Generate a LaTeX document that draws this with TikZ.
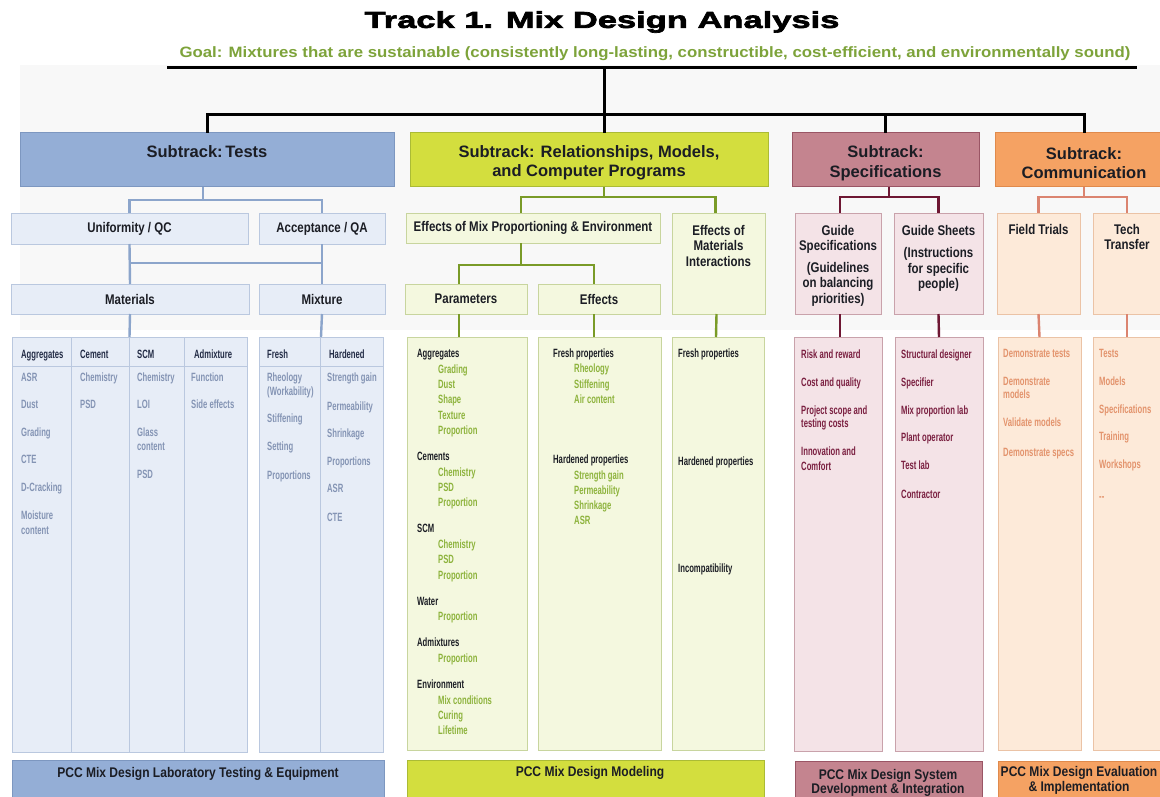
\documentclass[tikz,border=0pt]{standalone}
\usepackage{fontspec}
\setmainfont{Liberation Sans}
\newfontfamily\gfont[FakeStretch=1.12]{Liberation Sans}
\newfontfamily\bfont[FakeStretch=0.86]{Liberation Sans}
\newfontfamily\cfont[FakeStretch=0.82]{Liberation Sans}
\newfontfamily\ifont[FakeStretch=0.64]{Liberation Sans}
\newfontfamily\tfont[FakeStretch=1.5,FakeBold=3]{Liberation Sans}

\definecolor{ink}{HTML}{1B1D24}
\definecolor{haze}{HTML}{F8F8F8}
\definecolor{goalc}{HTML}{7DA33A}
% tests branch (blue)
\definecolor{tbH}{HTML}{94AED6}
\definecolor{tbHd}{HTML}{7D97C0}
\definecolor{tbL}{HTML}{E7EDF7}
\definecolor{tbLd}{HTML}{BAC8DF}
\definecolor{tbW}{HTML}{8CA5CB}
\definecolor{tbI}{HTML}{8494B4}
\definecolor{tbK}{HTML}{222B45}
% models branch (green)
\definecolor{gH}{HTML}{D3DE3E}
\definecolor{gHd}{HTML}{ABBB35}
\definecolor{gL}{HTML}{F4F8DF}
\definecolor{gLd}{HTML}{C8D59E}
\definecolor{gW}{HTML}{7A9B28}
\definecolor{gI}{HTML}{8DB33C}
% specifications branch (rose)
\definecolor{sH}{HTML}{C4848F}
\definecolor{sHd}{HTML}{9A5565}
\definecolor{sL}{HTML}{F4E3E7}
\definecolor{sLd}{HTML}{C9A2AB}
\definecolor{sW}{HTML}{6E1733}
\definecolor{sI}{HTML}{7A1F40}
% communication branch (orange)
\definecolor{oH}{HTML}{F5A263}
\definecolor{oHd}{HTML}{E08A4C}
\definecolor{oL}{HTML}{FDEAD9}
\definecolor{oLd}{HTML}{EBC3A6}
\definecolor{oW}{HTML}{DB8470}
\definecolor{oI}{HTML}{E3936C}

% box from corner coordinates: name, style, x1, y1, x2, y2, text
\newcommand\drawbox[7]{%
  \node[#2, minimum width={(#5-#3)*1pt}, minimum height={(#6-#4)*1pt}]
    (#1) at ({(#3+#5)/2},{(#4+#6)/2}) {#7};}

\begin{document}
\begin{tikzpicture}[x=1pt, y=-1pt,
  box/.style={rectangle, inner sep=0pt, outer sep=0pt, line width=1pt, align=center},
  hdrtxt/.style={inner sep=0pt, align=center, text=ink,
    font=\bfseries\fontsize{16.5}{19.5}\selectfont},
  lbl/.style={inner sep=0pt, align=center, text=ink,
    font=\cfont\bfseries\fontsize{14}{15.5}\selectfont},
  bartxt/.style={inner sep=0pt, align=center, text=ink,
    font=\bfont\bfseries\fontsize{14}{14.5}\selectfont},
  itm/.style={anchor=west, inner sep=0pt, text height=8pt, text depth=2pt,
    font=\ifont\bfseries\fontsize{12}{13}\selectfont},
  blk/.style={line width=3pt, draw=black},
  tw/.style={line width=2.4pt, draw=tbW},
  gw/.style={line width=2.4pt, draw=gW},
  sw/.style={line width=2.4pt, draw=sW},
  ow/.style={line width=2.4pt, draw=oW},
  tsep/.style={line width=1pt, draw=tbLd},
]
\useasboundingbox (0,0) rectangle (1160,797);
\clip (0,0) rectangle (1160,797);
\fill[white] (0,0) rectangle (1160,797);
\fill[haze] (20,65) rectangle (1160,330);

% ---------- title and goal ----------
\node[inner sep=0pt, font=\tfont\bfseries\fontsize{23}{26}\selectfont] (title) at (602,22)
  {Track 1. Mix Design Analysis};
\node[inner sep=0pt, text=goalc, font=\gfont\bfseries\fontsize{15}{17}\selectfont] (goal) at (655,54)
  {Goal: Mixtures that are sustainable (consistently long-lasting, constructible, cost-efficient, and environmentally sound)};
\coordinate (gl) at (167,68);
\coordinate (gr) at (1137,68);
\coordinate (top) at (604,68);
\coordinate (j) at (604,115);
\draw[blk] (gl) -- (gr);

% ---------- subtrack headers ----------
\drawbox{tests}{box, fill=tbH, draw=tbHd}{20}{133}{394}{187}{}
\drawbox{models}{box, fill=gH, draw=gHd}{410}{133}{768}{187}{}
\drawbox{spec}{box, fill=sH, draw=sHd}{792}{133}{979}{187}{}
\drawbox{comm}{box, fill=oH, draw=oHd}{995}{133}{1173}{187}{}
\node[hdrtxt] (testsT) at ([yshift=8pt]tests.center) {Subtrack:\,Tests};
\node[hdrtxt] (modelsT) at ([yshift=-3pt]models.center) {Subtrack: Relationships, Models,\\and Computer Programs};
\node[hdrtxt] (specT) at ([yshift=-3pt]spec.center) {Subtrack:\\Specifications};
\node[hdrtxt] (commT) at ([yshift=-3pt]comm.center) {Subtrack:\\Communication};

\draw[blk] (top) -- (top |- models.north);
\draw[blk] (tests.north) |- (j) -| (spec.north);
\draw[blk] (j) -| (comm.north);

% ---------- tests branch ----------
\drawbox{unif}{box, fill=tbL, draw=tbLd, lbl}{11}{213}{248}{244}{Uniformity / QC}
\drawbox{accq}{box, fill=tbL, draw=tbLd, lbl}{259}{213}{385}{244}{Acceptance / QA}
\drawbox{mat}{box, fill=tbL, draw=tbLd, lbl}{11}{284}{249}{314}{Materials}
\drawbox{mix}{box, fill=tbL, draw=tbLd, lbl}{259}{284}{385}{314}{Mixture}
\drawbox{mattab}{box, fill=tbL, draw=tbLd}{12}{337}{247}{752}{}
\drawbox{mixtab}{box, fill=tbL, draw=tbLd}{259}{337}{383}{752}{}
\coordinate (hbar) at (0,263);

\draw[tw] ([xshift=-4pt]tests.south) -- ++(0,13) -| (unif.north);
\draw[tw] ([xshift=-4pt]tests.south) -- ++(0,13) -| (accq.north);
\draw[tw] (unif.south) -- (mat.north);
\draw[tw] (accq.south) -- (mix.north);
\draw[tw] (unif.south |- hbar) -- (accq.south |- hbar);
\draw[tw] (mat.south) -- (mattab.north);
\draw[tw] (mix.south) -- (mixtab.north);

% table rules
\draw[tsep] ([yshift=-29pt]mattab.north west) -- ([yshift=-29pt]mattab.north east);
\draw[tsep] ([yshift=-29pt]mixtab.north west) -- ([yshift=-29pt]mixtab.north east);
\foreach \dx in {59,117,172}
  \draw[tsep] ([xshift=\dx pt]mattab.north west) -- ([xshift=\dx pt]mattab.south west);
\draw[tsep] ([xshift=61pt]mixtab.north west) -- ([xshift=61pt]mixtab.south west);

\foreach \t/\x/\y [count=\i] in {Aggregates/21/355, Cement/80/355, SCM/137/355,
    Admixture/194/355, Fresh/267/355, Hardened/329/355}
  \node[itm, text=tbK] (th\i) at (\x,\y) {\t};
\foreach \t/\x/\y [count=\i] in {ASR/21/378, Dust/21/405, Grading/21/433, CTE/21/460,
    D-Cracking/21/488, Moisture/21/516, content/21/531,
    Chemistry/80/378, PSD/80/405,
    Chemistry/137/378, LOI/137/405, Glass/137/433, content/137/447, PSD/137/475,
    Function/191/378, Side effects/191/405,
    Rheology/267/378, {(Workability)}/267/392, Stiffening/267/419, Setting/267/447,
    Proportions/267/476,
    Strength gain/327/378, Permeability/327/407, Shrinkage/327/434,
    Proportions/327/462, ASR/327/489, CTE/327/518}
  \node[itm, text=tbI] (ti\i) at (\x,\y) {\t};

% ---------- models branch ----------
\drawbox{effmix}{box, fill=gL, draw=gLd, lbl}{406}{213}{660}{243}{Effects of Mix Proportioning \& Environment}
\drawbox{effmat}{box, fill=gL, draw=gLd}{672}{213}{765}{314}{}
\node[lbl, anchor=north] (effmatT) at ([yshift=-12pt]effmat.north) {Effects of\\Materials\\Interactions};
\drawbox{param}{box, fill=gL, draw=gLd, lbl}{405}{284}{527}{314}{Parameters}
\drawbox{effects}{box, fill=gL, draw=gLd, lbl}{538}{284}{660}{314}{Effects}
\drawbox{pcol}{box, fill=gL, draw=gLd}{407}{337}{527}{750}{}
\drawbox{ecol}{box, fill=gL, draw=gLd}{538}{337}{661}{750}{}
\drawbox{icol}{box, fill=gL, draw=gLd}{672}{337}{764}{750}{}

\draw[gw] ([xshift=15pt]models.south) -- ++(0,10) -| ([xshift=-12pt]effmix.north);
\draw[gw] ([xshift=15pt]models.south) -- ++(0,10) -| ([xshift=-3pt]effmat.north);
\draw[gw] ([xshift=-12pt]effmix.south) -- ++(0,22) -| ([xshift=-7pt]param.north);
\draw[gw] ([xshift=-12pt]effmix.south) -- ++(0,22) -| ([xshift=-5pt]effects.north);
\draw[gw] ([xshift=-7pt]param.south) -- ([xshift=-8pt]pcol.north);
\draw[gw] ([xshift=-5pt]effects.south) -- ([xshift=-5.5pt]ecol.north);
\draw[gw] ([xshift=-2pt]effmat.south) -- ([xshift=-2pt]icol.north);

\foreach \t/\x/\y [count=\i] in {Aggregates/417/354, Cements/417/457, SCM/417/529,
    Water/417/602, Admixtures/417/643, Environment/417/685,
    Fresh properties/553/354, Hardened properties/553/460,
    Fresh properties/678/354, Hardened properties/678/462, Incompatibility/678/569}
  \node[itm, text=ink] (gh\i) at (\x,\y) {\t};
\foreach \t/\x/\y [count=\i] in {Grading/438/370, Dust/438/385, Shape/438/400,
    Texture/438/416, Proportion/438/431,
    Chemistry/438/473, PSD/438/488, Proportion/438/503,
    Chemistry/438/545, PSD/438/560, Proportion/438/576,
    Proportion/438/617, Proportion/438/659,
    Mix conditions/438/701, Curing/438/716, Lifetime/438/731,
    Rheology/574/369, Stiffening/574/385, Air content/574/400,
    Strength gain/574/476, Permeability/574/491, Shrinkage/574/506, ASR/574/521}
  \node[itm, text=gI] (gi\i) at (\x,\y) {\t};

% ---------- specifications branch ----------
\drawbox{gspec}{box, fill=sL, draw=sLd}{795}{213}{881}{314}{}
\drawbox{gsheet}{box, fill=sL, draw=sLd}{894}{213}{983}{314}{}
\node[lbl, anchor=north] (gspecT) at ([yshift=-12pt]gspec.north)
  {Guide\\Specifications\\[6pt](Guidelines\\on balancing\\priorities)};
\node[lbl, anchor=north] (gsheetT) at ([yshift=-12pt]gsheet.north)
  {Guide Sheets\\[7pt](Instructions\\for specific\\people)};
\drawbox{scol1}{box, fill=sL, draw=sLd}{794}{337}{882}{751}{}
\drawbox{scol2}{box, fill=sL, draw=sLd}{895}{337}{983}{751}{}

\draw[sw] ([xshift=3.5pt]spec.south) -- ++(0,10) -| ([xshift=2pt]gspec.north);
\draw[sw] ([xshift=3.5pt]spec.south) -- ++(0,10) -| (gsheet.north);
\draw[sw] ([xshift=2pt]gspec.south) -- ([xshift=2pt]scol1.north);
\draw[sw] (gsheet.south) -- (scol2.north);

\foreach \t/\x/\y [count=\i] in {Risk and reward/801/355, Cost and quality/801/383,
    Project scope and/801/411, testing costs/801/424, Innovation and/801/452,
    Comfort/801/467,
    Structural designer/901/355, Specifier/901/383, Mix proportion lab/901/411,
    Plant operator/901/438, Test lab/901/466, Contractor/901/495}
  \node[itm, text=sI] (si\i) at (\x,\y) {\t};

% ---------- communication branch ----------
\drawbox{field}{box, fill=oL, draw=oLd}{997}{213}{1080}{314}{}
\drawbox{tech}{box, fill=oL, draw=oLd}{1093}{213}{1161}{314}{}
\node[lbl, anchor=north] (fieldT) at ([yshift=-11pt]field.north) {Field Trials};
\node[lbl, anchor=north] (techT) at ([yshift=-11pt]tech.north) {Tech\\Transfer};
\drawbox{ocol1}{box, fill=oL, draw=oLd}{998}{337}{1081}{750}{}
\drawbox{ocol2}{box, fill=oL, draw=oLd}{1093}{337}{1161}{750}{}

\draw[ow] (comm.south) -- ++(0,10) -| (field.north);
\draw[ow] (comm.south) -- ++(0,10) -| (tech.north);
\draw[ow] (field.south) -- (ocol1.north);
\draw[ow] (tech.south) -- (ocol2.north);

\foreach \t/\x/\y [count=\i] in {Demonstrate tests/1003/354, Demonstrate/1003/382,
    models/1003/395, Validate models/1003/423, Demonstrate specs/1003/453,
    Tests/1099/354, Models/1099/382, Specifications/1099/410, Training/1099/437,
    Workshops/1099/465, --/1099/497}
  \node[itm, text=oI] (oi\i) at (\x,\y) {\t};

% ---------- programme bars ----------
\drawbox{tbar}{box, fill=tbH, draw=tbHd}{12}{760}{384}{812}{}
\drawbox{gbar}{box, fill=gH, draw=gHd}{407}{760}{764}{812}{}
\drawbox{sbar}{box, fill=sH, draw=sHd}{795}{761}{982}{812}{}
\drawbox{obar}{box, fill=oH, draw=oHd}{998}{761}{1165}{812}{}
\node[bartxt] (tbarT) at (198,774) {PCC Mix Design Laboratory Testing \& Equipment};
\node[bartxt] (gbarT) at (590,773) {PCC Mix Design Modeling};
\node[bartxt] (sbarT) at (888,783) {PCC Mix Design System\\Development \& Integration};
\node[bartxt] (obarT) at (1079,780.5) {PCC Mix Design Evaluation\\\& Implementation};
\end{tikzpicture}
\end{document}
